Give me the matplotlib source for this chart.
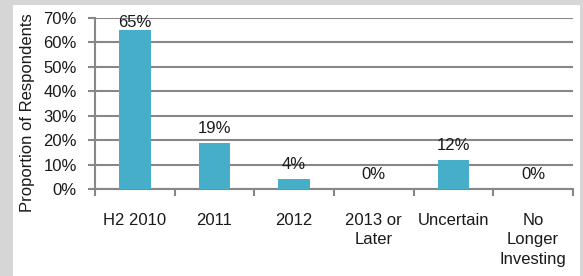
import matplotlib
matplotlib.use("Agg")
import matplotlib.pyplot as plt
from matplotlib.patches import Rectangle
import numpy as np

categories = ["H2 2010", "2011", "2012", "2013 or\nLater", "Uncertain", "No\nLonger\nInvesting"]
values = [65, 19, 4, 0, 12, 0]
labels = ["65%", "19%", "4%", "0%", "12%", "0%"]
yticks = [0, 10, 20, 30, 40, 50, 60, 70]

plt.rcParams['font.family'] = ['Liberation Sans', 'DejaVu Sans']
FS = 12
TC = '#1a1a1a'

W, H = 583, 276
fig = plt.figure(figsize=(W/100, H/100), dpi=100)
fig.patch.set_facecolor('#d6d6d6')
fig.add_artist(Rectangle((13/W, 0), (580-13)/W, (276-5)/H, transform=fig.transFigure,
                         facecolor='white', edgecolor='none', zorder=0))

ax = fig.add_axes([95/W, 1-189/H, (573-95)/W, (189-18)/H])
ax.set_facecolor('none')
x = np.arange(len(categories))
ax.bar(x, values, width=0.4, color='#46aec8', zorder=3)
for xi, v, lab in zip(x, values, labels):
    ax.text(xi, min(v + 4.1, 66.3), lab, ha='center', va='baseline', fontsize=FS, color=TC, zorder=4)

ax.set_xlim(-0.5, len(categories) - 0.5)
ax.set_ylim(0, 70)
ax.set_yticks(yticks)
ax.set_yticklabels([f"{t}%" for t in yticks], fontsize=FS, color=TC)
ax.yaxis.grid(True, color='#878787', linewidth=1.5, zorder=1)
ax.set_axisbelow(True)

ax.set_xticks(np.arange(len(categories) + 1) - 0.5)
ax.set_xticklabels([])
ax.set_xticks(x, minor=True)
ax.set_xticklabels(categories, minor=True, fontsize=FS, color=TC, linespacing=1.4)
ax.tick_params(axis='x', which='major', length=5, width=1.5, color='#878787', direction='out')
ax.tick_params(axis='x', which='minor', length=0, pad=17)
ax.tick_params(axis='y', length=5, width=1.5, color='#878787', direction='out', pad=8)
for sp in ['top', 'right']:
    ax.spines[sp].set_visible(False)
for sp in ['left', 'bottom']:
    ax.spines[sp].set_color('#878787')
    ax.spines[sp].set_linewidth(1.5)
ax.set_ylabel("Proportion of Respondents", fontsize=FS, color=TC)
ax.yaxis.set_label_coords(28/W, (276 - 113) / H, transform=fig.transFigure)
ax.yaxis.label.set_va('center')

fig.savefig("out.png", dpi=100, facecolor=fig.get_facecolor())
